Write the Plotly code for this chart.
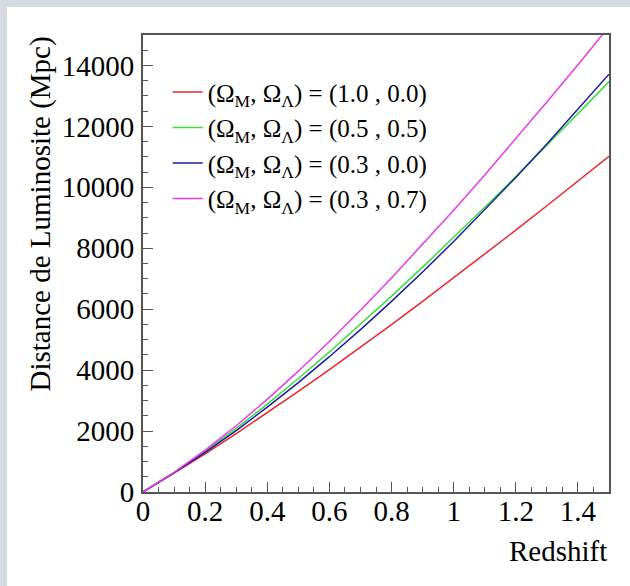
import plotly.graph_objects as go

# Redshift samples and luminosity distances (Mpc) for four cosmologies
redshift = [0.0, 0.1, 0.2, 0.3, 0.4, 0.5, 0.6, 0.7, 0.8, 0.9, 1.0, 1.1, 1.2, 1.3, 1.4, 1.5]
dl_m10_l00 = [0, 614, 1254, 1917, 2600, 3301, 4018, 4751, 5497, 6255, 7025, 7805, 8595, 9395, 10203, 11019]
dl_m05_l05 = [0, 635, 1334, 2087, 2886, 3724, 4597, 5499, 6428, 7381, 8354, 9346, 10355, 11380, 12419, 13472]
dl_m03_l00 = [0, 625, 1298, 2018, 2783, 3591, 4441, 5330, 6257, 7222, 8221, 9256, 10323, 11423, 12554, 13715]
dl_m03_l07 = [0, 644, 1372, 2174, 3041, 3966, 4942, 5964, 7025, 8122, 9251, 10408, 11592, 12798, 14026, 15274]

series_labels = [
    "(Ω<sub>M</sub>, Ω<sub>Λ</sub>) = (1.0 , 0.0)",
    "(Ω<sub>M</sub>, Ω<sub>Λ</sub>) = (0.5 , 0.5)",
    "(Ω<sub>M</sub>, Ω<sub>Λ</sub>) = (0.3 , 0.0)",
    "(Ω<sub>M</sub>, Ω<sub>Λ</sub>) = (0.3 , 0.7)",
]
series_values = [dl_m10_l00, dl_m05_l05, dl_m03_l00, dl_m03_l07]
series_colors = ["#e8262b", "#3ddc3d", "#1c1c9c", "#e83ae8"]

x_title = "Redshift"
y_title = "Distance de Luminosite (Mpc)"

FONT = "Liberation Serif, Times New Roman, serif"
W, H = 630, 586
L, R, T, B = 143, 21, 35, 94
pw, ph = W - L - R, H - T - B

fig = go.Figure()
for name, vals, col in zip(series_labels, series_values, series_colors):
    fig.add_trace(go.Scatter(
        x=redshift, y=vals, mode="lines", name=name,
        line=dict(color=col, width=1.5),
    ))

# white canvas over a blue-grey page edge (top and left strips)
fig.add_shape(
    type="rect", xref="paper", yref="paper", layer="below",
    x0=(7 - L) / pw, x1=1.2, y0=-0.4, y1=(H - B - 7) / ph,
    fillcolor="white", line=dict(width=0),
)

axis_common = dict(
    showline=True, linecolor="#555555", linewidth=1.8, mirror=True,
    showgrid=False, zeroline=False, ticks="inside", tickcolor="#555555",
    tickwidth=1, ticklen=10,
    tickfont=dict(family=FONT, size=29, color="black"),
)

fig.update_xaxes(
    range=[0, 1.5], dtick=0.2, tick0=0,
    minor=dict(dtick=0.05, ticklen=5, ticks="inside", tickcolor="#555555"),
    ticklabelstandoff=-8,
    **axis_common,
)
fig.update_yaxes(
    range=[0, 15000], dtick=2000, tick0=0, tickformat="d",
    minor=dict(dtick=500, ticklen=5, ticks="inside", tickcolor="#555555"),
    ticklabelstandoff=1,
    **axis_common,
)

fig.add_annotation(
    text=y_title, textangle=-90, xref="paper", yref="paper",
    x=(40 - L) / pw, y=1.0, xanchor="center", yanchor="top",
    showarrow=False, font=dict(family=FONT, size=29, color="black"),
)
fig.add_annotation(
    text=x_title, xref="paper", yref="paper",
    x=1.0, y=(H - B - 551) / ph, xanchor="right", yanchor="middle",
    showarrow=False, font=dict(family=FONT, size=29, color="black"),
)

fig.update_layout(
    width=W, height=H,
    margin=dict(l=L, r=R, t=T, b=B),
    paper_bgcolor="#d5dae3", plot_bgcolor="white",
    showlegend=True,
    legend=dict(
        x=0.053, y=0.925, xanchor="left", yanchor="top",
        bgcolor="rgba(0,0,0,0)", borderwidth=0,
        font=dict(family=FONT, size=25, color="black"),
        tracegroupgap=0,
    ),
)

fig.write_html("out.html")
